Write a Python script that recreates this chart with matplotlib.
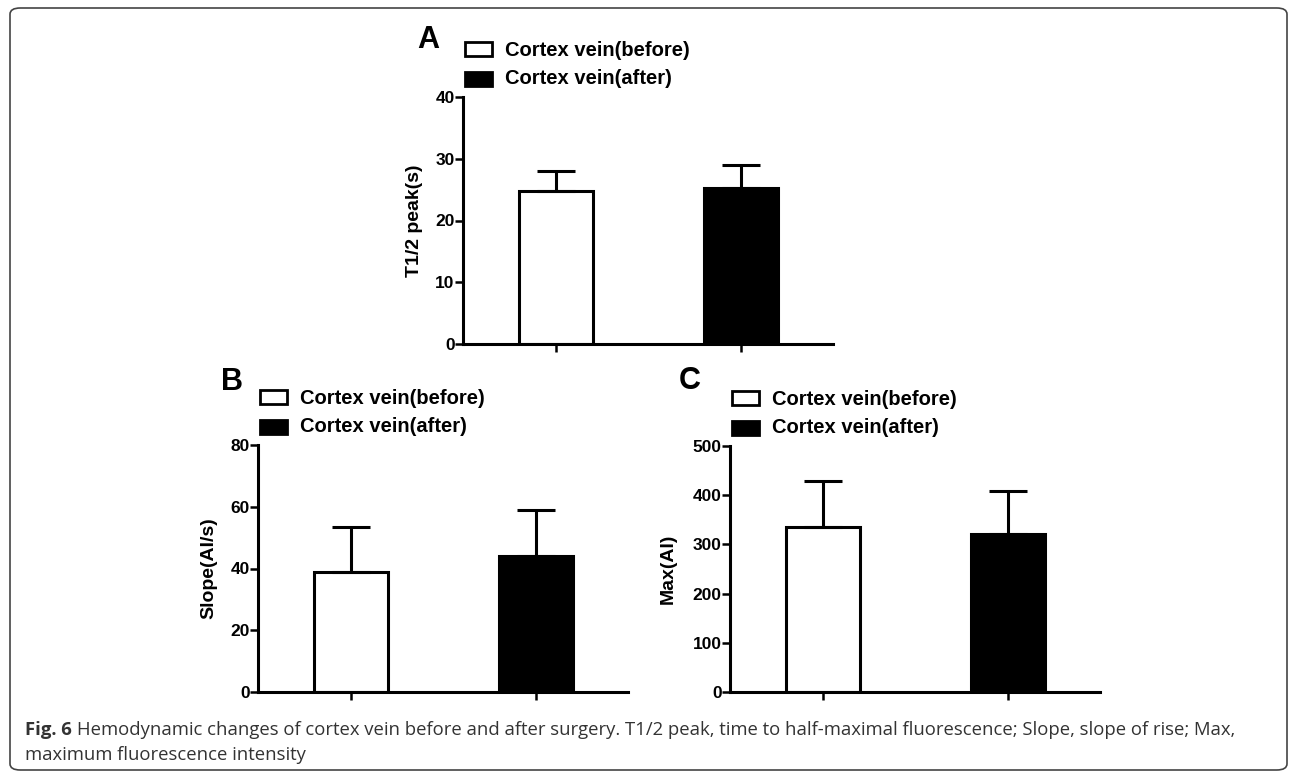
import numpy as np
import matplotlib
matplotlib.use('Agg')
import matplotlib.pyplot as plt
from matplotlib.patches import Rectangle, FancyBboxPatch

plt.rcParams['font.family'] = 'Liberation Sans'
plt.rcParams['font.weight'] = 'bold'

#------------------ values ------------------
groups = ['Cortex vein(before)', 'Cortex vein(after)']
bar_colors = ['white', 'black']

t_half_mean = [24.7, 25.2]
t_half_err = [3.3, 3.8]
slope_mean = [38.8, 44.0]
slope_err = [14.8, 14.9]
max_mean = [336, 322]
max_err = [92, 86]

letters = ['A', 'B', 'C']
y_labels = ['T1/2 peak(s)', 'Slope(AI/s)', 'Max(AI)']
y_ticks = [[0, 10, 20, 30, 40], [0, 20, 40, 60, 80], [0, 100, 200, 300, 400, 500]]

caption_bold = 'Fig. 6'
caption_line1 = ('Hemodynamic changes of cortex vein before and after surgery. '
                 'T1/2 peak, time to half-maximal fluorescence; Slope, slope of rise; Max,')
caption_line2 = 'maximum fluorescence intensity'

W, H = 1290, 774
fig = plt.figure(figsize=(W / 100, H / 100), dpi=100)

# axes boxes in pixels: left, top(of y range), right, bottom(y=0)
boxes = [(463, 97, 833, 344), (258, 445, 628, 692), (730, 446, 1100, 692)]
label_x = [-0.108, -0.111, -0.143]
letter_pos = [(-0.095, 1.231), (-0.07, 1.255), (-0.108, 1.263)]
LW = 2.2


def draw_panel(ax, means, errs, ticks, ylabel, letter, lx, lpos):
    x = np.arange(len(means))
    ax.bar(x, means, width=0.4, color=bar_colors, edgecolor='black',
           linewidth=LW, zorder=2)
    ax.errorbar(x, means, yerr=[np.zeros(len(errs)), errs], fmt='none',
                ecolor='black', elinewidth=LW, capsize=14, capthick=LW, zorder=3)
    ax.set_xlim(-0.5, 1.5)
    ax.set_ylim(0, ticks[-1])
    ax.set_yticks(ticks)
    ax.set_xticks(x)
    ax.set_xticklabels([])
    for s in ['top', 'right']:
        ax.spines[s].set_visible(False)
    for s in ['left', 'bottom']:
        ax.spines[s].set_linewidth(LW)
    ax.tick_params(axis='y', length=5.5, width=1.8, pad=0.5, labelsize=12.5)
    ax.tick_params(axis='x', length=6, width=1.8)
    ax.set_ylabel(ylabel, fontsize=14, fontweight='bold')
    ax.yaxis.set_label_coords(lx, 0.5)
    ax.text(lpos[0], lpos[1], letter, transform=ax.transAxes, fontsize=22,
            fontweight='bold', ha='center', va='center')
    # legend drawn by hand above each panel
    for i, (g, c) in enumerate(zip(groups, bar_colors)):
        y0 = [1.166, 1.045][i]
        ax.add_patch(Rectangle((0.005, y0), 0.074, 0.056, transform=ax.transAxes,
                               facecolor=c, edgecolor='black', linewidth=2,
                               clip_on=False))
        ax.text(0.1135, [1.19, 1.075][i], g, transform=ax.transAxes,
                fontsize=14.5, fontweight='bold', va='center', ha='left')


panels = [(t_half_mean, t_half_err), (slope_mean, slope_err), (max_mean, max_err)]
for k, (m, e) in enumerate(panels):
    l, t, r, b = boxes[k]
    ax = fig.add_axes([l / W, 1 - b / H, (r - l) / W, (b - t) / H])
    draw_panel(ax, m, e, y_ticks[k], y_labels[k], letters[k], label_x[k], letter_pos[k])

#------------------ caption and frame ------------------
cap_col = '#333333'
cap_size = 13.3
t1 = fig.text(25 / W, 1 - 730 / H, caption_bold, fontsize=cap_size, fontweight='bold',
              family='Open Sans', color=cap_col, va='center')
fig.canvas.draw()
bb = t1.get_window_extent(fig.canvas.get_renderer())
fig.text((bb.x1 + 5) / W, 1 - 730 / H, caption_line1, fontsize=cap_size,
         fontweight='normal', family='Open Sans', color=cap_col, va='center')
fig.text(25 / W, 1 - 755 / H, caption_line2, fontsize=cap_size, fontweight='normal',
         family='Open Sans', color=cap_col, va='center')

frame = FancyBboxPatch((10 / W, 1 - 770 / H), 1277 / W, 762 / H,
                       boxstyle='round,pad=0,rounding_size=0.008',
                       transform=fig.transFigure, facecolor='none',
                       edgecolor='#444444', linewidth=1.2)
fig.patches.append(frame)

fig.savefig('out.png', dpi=100)
